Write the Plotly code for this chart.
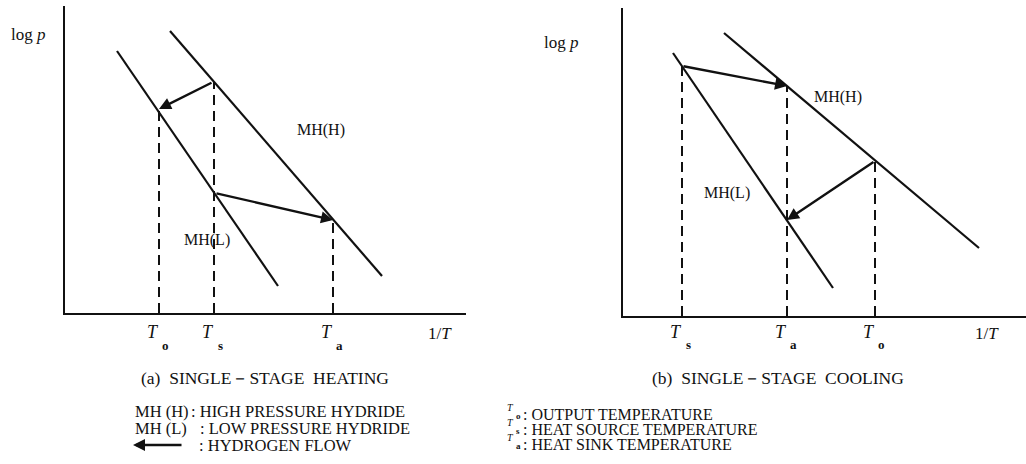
import plotly.graph_objects as go

W, H = 1026, 464
FONT = "Liberation Serif"
INK = "#111111"

# ---------------- data (schematic units: x = 1/T, y = log p) ----------------
# (a) single-stage heating
a_mhl_x = [52, 213]
a_mhl_y = [262, 27]
a_mhh_x = [105, 317]
a_mhh_y = [282, 37]
a_temp_sub = ["o", "s", "a"]
a_temp_x = [94, 149, 268]
a_temp_top = [204, 231, 93]
a_flow_x0 = [148, 150]
a_flow_y0 = [231, 120]
a_flow_x1 = [94, 268]
a_flow_y1 = [204, 93]
a_label_text = ["MH(H)", "MH(L)"]
a_label_x = [256, 142]
a_label_y = [183, 73]

# (b) single-stage cooling
b_mhl_x = [50, 210]
b_mhl_y = [263, 28]
b_mhh_x = [101, 356]
b_mhh_y = [283, 68]
b_temp_sub = ["s", "a", "o"]
b_temp_x = [59, 164, 252]
b_temp_top = [250, 230, 155]
b_flow_x0 = [59, 252]
b_flow_y0 = [250, 155]
b_flow_x1 = [164, 164]
b_flow_y1 = [230, 96]
b_label_text = ["MH(H)", "MH(L)"]
b_label_x = [215, 104]
b_label_y = [219, 123]

legend_a = ["HIGH PRESSURE HYDRIDE", "LOW PRESSURE HYDRIDE", "HYDROGEN FLOW"]
legend_b_sub = ["o", "s", "a"]
legend_b = ["OUTPUT TEMPERATURE", "HEAT SOURCE TEMPERATURE", "HEAT SINK TEMPERATURE"]

# ---------------- figure ----------------
fig = go.Figure()


def py(y):
    return 1 - y / H


def add_panel(xr, yr, mhl_x, mhl_y, mhh_x, mhh_y, tx, ttop,
              fx0, fy0, fx1, fy1, subs, lab_t, lab_x, lab_y, t_py, s_py, one_x, one_py):
    for xs, ys in [(mhl_x, mhl_y), (mhh_x, mhh_y)]:
        fig.add_trace(go.Scatter(x=xs, y=ys, mode="lines", xaxis=xr, yaxis=yr,
                                 line=dict(color=INK, width=2.2), hoverinfo="skip",
                                 showlegend=False))
    for x, top in zip(tx, ttop):
        fig.add_trace(go.Scatter(x=[x, x], y=[0, top], mode="lines", xaxis=xr, yaxis=yr,
                                 line=dict(color=INK, width=2, dash="10px,6px"),
                                 hoverinfo="skip", showlegend=False))
    for x0, y0, x1, y1 in zip(fx0, fy0, fx1, fy1):
        fig.add_annotation(x=x1, y=y1, ax=x0, ay=y0, xref=xr, yref=yr,
                           axref=xr, ayref=yr, showarrow=True, text="",
                           arrowhead=2, arrowsize=1.0, arrowwidth=2.4,
                           arrowcolor=INK, standoff=0, startstandoff=0)
    for x, s in zip(tx, subs):
        fig.add_annotation(x=x - 6, y=py(t_py), xref=xr, yref="paper", text="<i>T</i>",
                           xanchor="center", yanchor="middle", showarrow=False,
                           font=dict(family=FONT, size=18, color=INK))
        fig.add_annotation(x=x + 6, y=py(s_py), xref=xr, yref="paper", text="<b>%s</b>" % s,
                           xanchor="center", yanchor="middle", showarrow=False,
                           font=dict(family=FONT, size=13, color=INK))
    fig.add_annotation(x=one_x, y=py(one_py), xref=xr, yref="paper", text="1/<i>T</i>",
                       xanchor="center", yanchor="middle", showarrow=False,
                       font=dict(family=FONT, size=17, color=INK))
    for t, x, y in zip(lab_t, lab_x, lab_y):
        fig.add_annotation(x=x, y=y, xref=xr, yref=yr, text=t, showarrow=False,
                           font=dict(family=FONT, size=16, color=INK))


add_panel("x", "y", a_mhl_x, a_mhl_y, a_mhh_x, a_mhh_y, a_temp_x, a_temp_top,
          a_flow_x0, a_flow_y0, a_flow_x1, a_flow_y1, a_temp_sub,
          a_label_text, a_label_x, a_label_y, 332, 345, 375, 333)
add_panel("x2", "y2", b_mhl_x, b_mhl_y, b_mhh_x, b_mhh_y, b_temp_x, b_temp_top,
          b_flow_x0, b_flow_y0, b_flow_x1, b_flow_y1, b_temp_sub,
          b_label_text, b_label_x, b_label_y, 332, 344, 364, 333)


def ptext(x, y, text, size=14, xanchor="center"):
    fig.add_annotation(x=x / W, y=py(y), xref="paper", yref="paper", text=text,
                       showarrow=False, xanchor=xanchor, yanchor="middle",
                       font=dict(family=FONT, size=size, color=INK))


# log p labels
ptext(28, 34, "log <i>p</i>", 17)
ptext(561, 43, "log <i>p</i>", 17)

# captions
NB = "\u00a0"
ptext(265, 378, "(a)" + NB * 2 + "SINGLE－STAGE" + NB * 2 + "HEATING", 17.5)
ptext(778, 378, "(b)" + NB * 2 + "SINGLE－STAGE" + NB * 2 + "COOLING", 17.5)

# legend (a)
ptext(133, 411, "MH (H)", 16.5, "left")
ptext(189, 411, ": " + legend_a[0], 16.5, "left")
ptext(133, 428, "MH (L)", 16.5, "left")
ptext(198, 428, ": " + legend_a[1], 16.5, "left")
ptext(197, 445, ": " + legend_a[2], 16.5, "left")
fig.add_annotation(x=133 / W, y=py(445), xref="paper", yref="paper", ax=50, ay=0,
                   axref="pixel", ayref="pixel", text="", showarrow=True, arrowhead=2,
                   arrowsize=1.0, arrowwidth=2.4, arrowcolor=INK, standoff=0)

# legend (b)
for i, (s, t) in enumerate(zip(legend_b_sub, legend_b)):
    yy = 414.5 + i * 15
    ptext(510, yy - 7, "<i>T</i>", 10)
    ptext(518, yy + 1, "<b>%s</b>" % s, 9)
    ptext(521, yy, ": " + t, 16, "left")

ax_common = dict(showgrid=False, zeroline=False, showticklabels=False, ticks="",
                 showline=True, linecolor=INK, linewidth=2, fixedrange=True)
fig.update_layout(
    width=W, height=H,
    margin=dict(l=0, r=0, t=0, b=0),
    paper_bgcolor="white", plot_bgcolor="white",
    showlegend=False,
    xaxis=dict(domain=[65 / W, 466 / W], range=[0, 401], anchor="y", **ax_common),
    yaxis=dict(domain=[1 - 313 / H, 1 - 6 / H], range=[0, 307], anchor="x", **ax_common),
    xaxis2=dict(domain=[623 / W, 1.0], range=[0, 403], anchor="y2", **ax_common),
    yaxis2=dict(domain=[1 - 316 / H, 1 - 8 / H], range=[0, 308], anchor="x2", **ax_common),
)

fig.write_html("out.html")
